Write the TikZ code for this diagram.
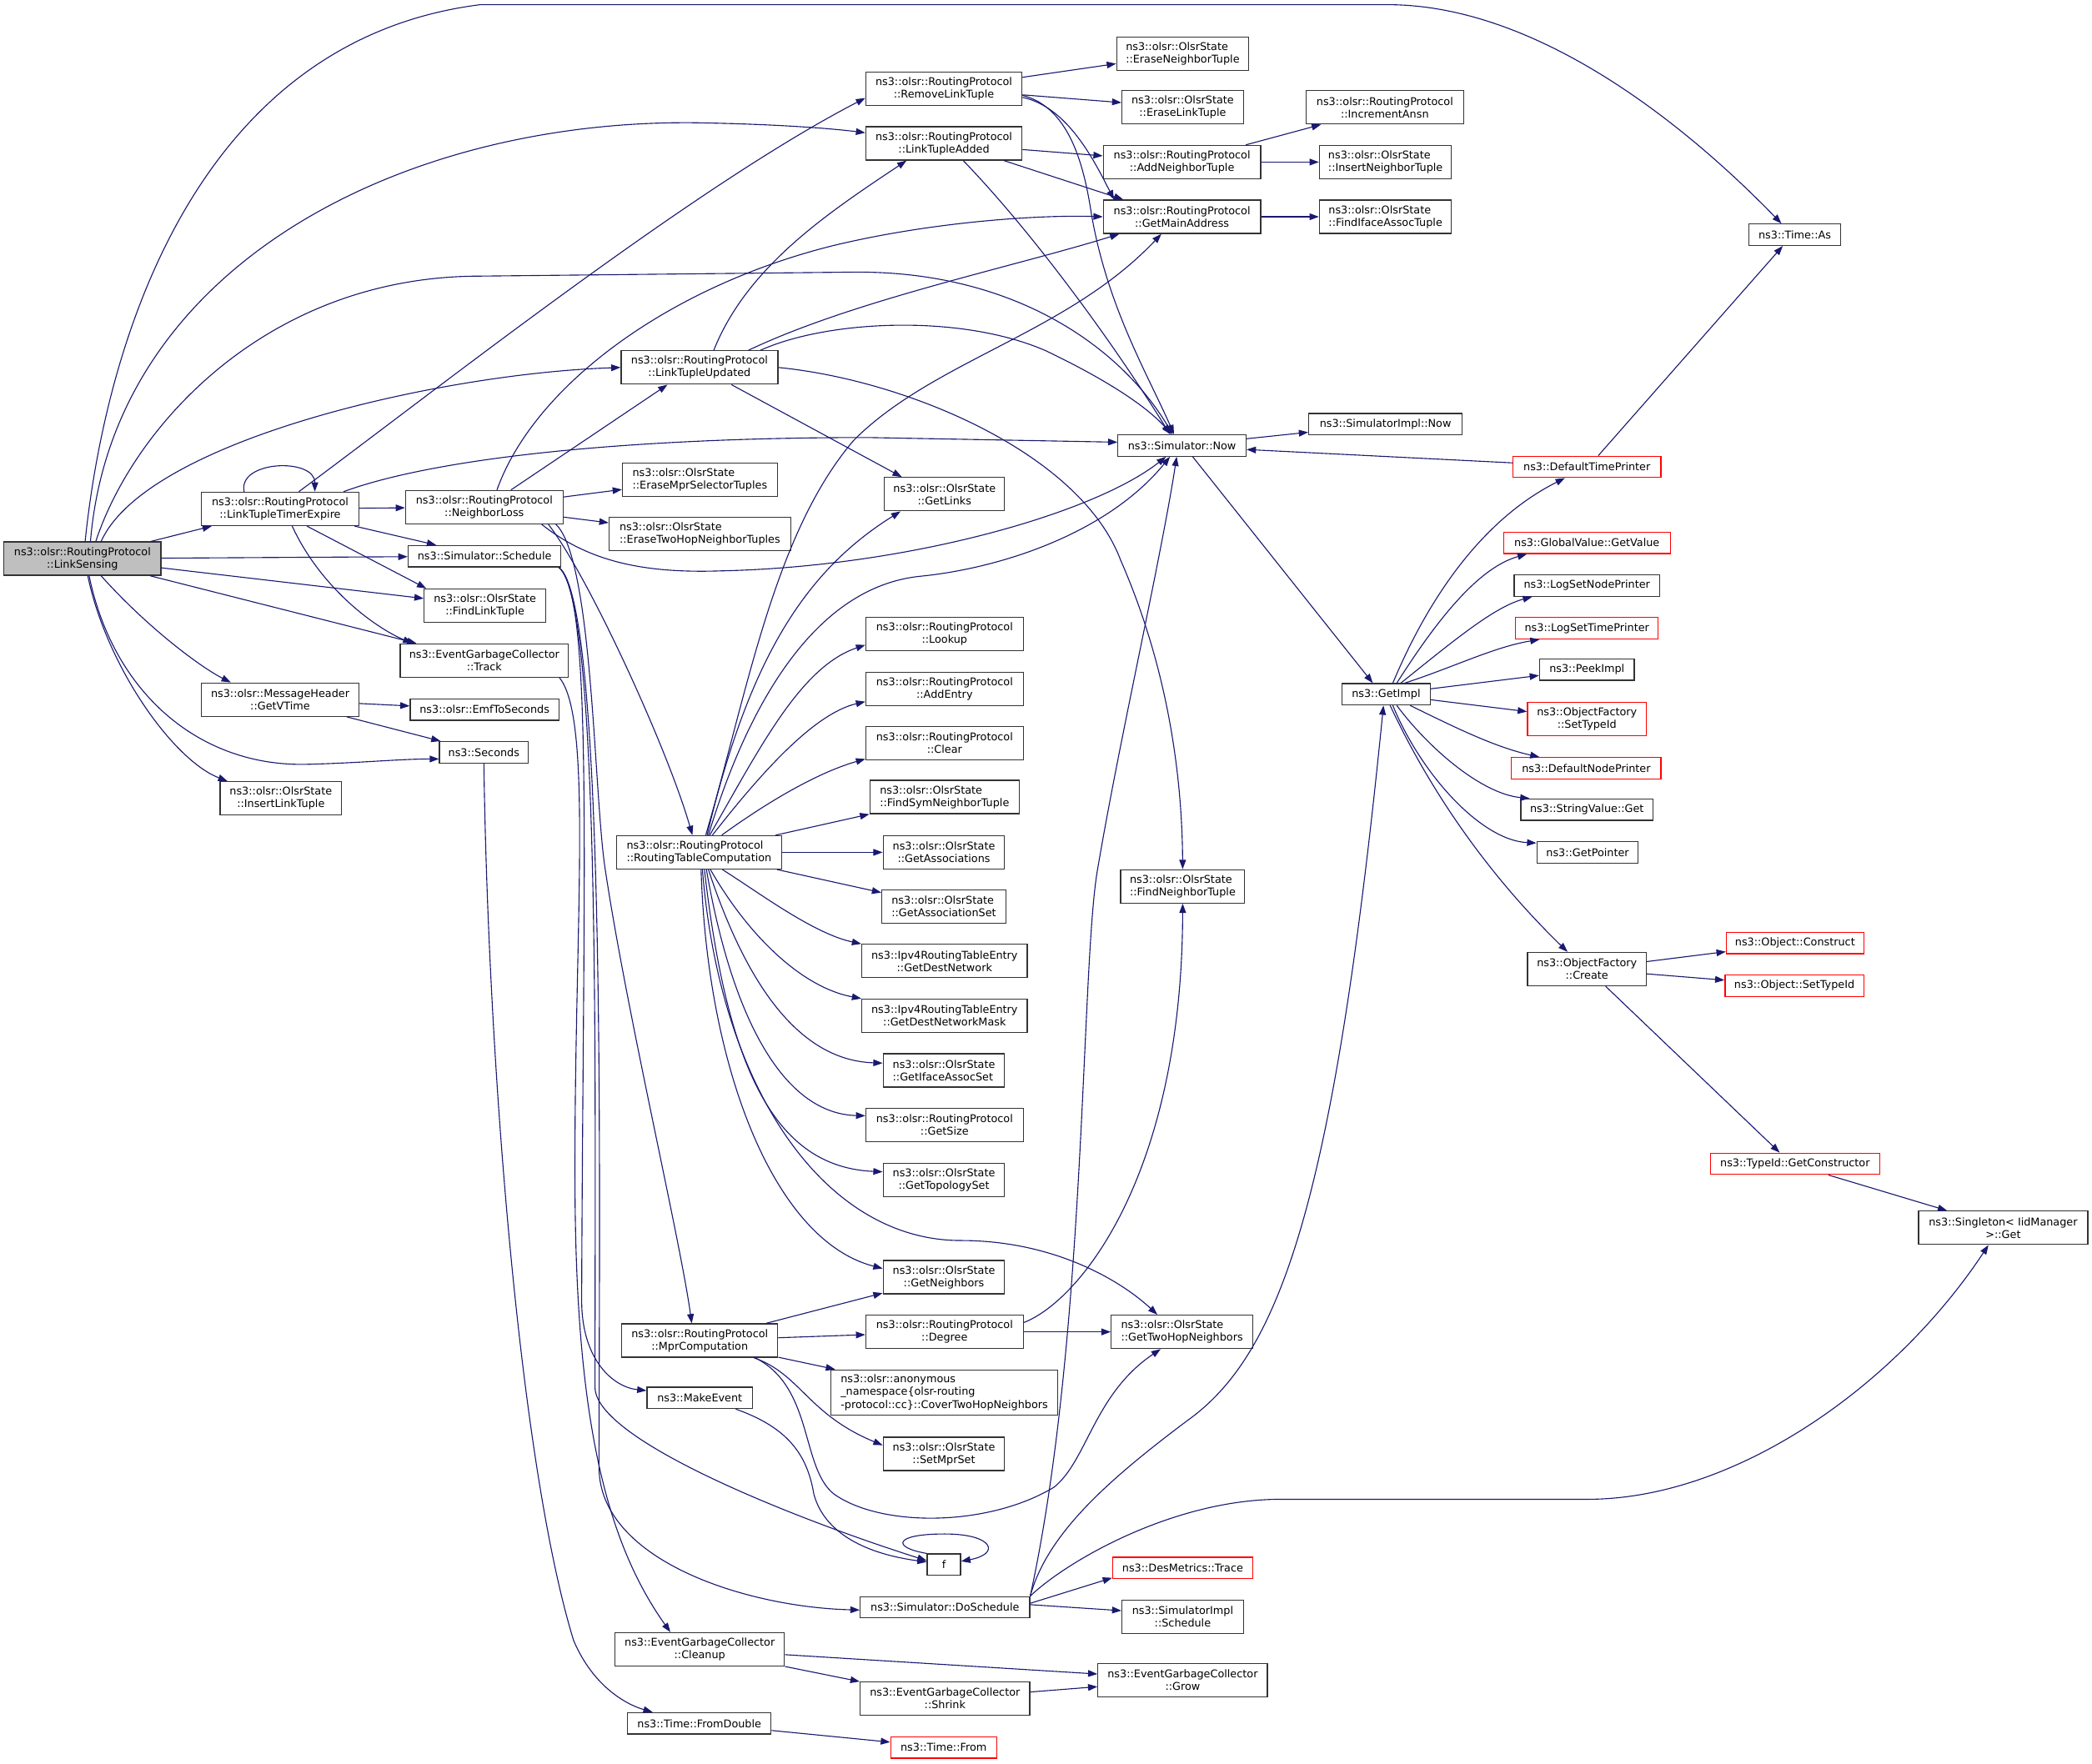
\documentclass[tikz,border=0pt]{standalone}
\usepackage{fontspec}
\setmainfont{DejaVu Sans}
\usetikzlibrary{arrows.meta}
\definecolor{calledge}{RGB}{25,25,112}
\definecolor{truncred}{RGB}{255,0,0}
\definecolor{rootgray}{RGB}{191,191,191}
\begin{document}
\begin{tikzpicture}[
      x=1pt, y=-1pt,
      >={Triangle[length=7pt,width=5pt]},
      fn/.style={
        draw=black!80, fill=white, line width=0.8pt, inner sep=0pt,
        minimum height=16pt, align=center, font={\fontsize{8}{9.4}\selectfont}
      },
      fn2/.style={fn, minimum height=25pt},
      fn3/.style={fn, minimum height=34pt},
      lft/.style={align=left},
      trunc/.style={draw=truncred},
      rootfn/.style={fill=rootgray},
      call/.style={->, draw=calledge, line width=0.7pt},
    ]
    \useasboundingbox (0,0) rectangle (1568.1,1321.9);
    \node[fn2, rootfn, minimum width=117.6pt] (sensing) at (61.8,418.8) {ns3::olsr::RoutingProtocol\\::LinkSensing};
    \node[fn2, minimum width=118pt] (timer) at (210,381.5) {ns3::olsr::RoutingProtocol\\::LinkTupleTimerExpire};
    \node[fn, minimum width=114.5pt] (schedule) at (363.2,417) {ns3::Simulator::Schedule};
    \node[fn2, minimum width=91pt] (findlink) at (363.5,454) {ns3::olsr::OlsrState\\::FindLinkTuple};
    \node[fn2, minimum width=126pt] (track) at (363,495.2) {ns3::EventGarbageCollector\\::Track};
    \node[fn2, minimum width=118pt] (vtime) at (210,524.5) {ns3::olsr::MessageHeader\\::GetVTime};
    \node[fn, minimum width=111.5pt] (emf) at (363.2,532) {ns3::olsr::EmfToSeconds};
    \node[fn, minimum width=66.5pt] (seconds) at (362.7,564) {ns3::Seconds};
    \node[fn2, minimum width=91pt] (insertlink) at (210.5,598.5) {ns3::olsr::OlsrState\\::InsertLinkTuple};
    \node[fn2, minimum width=118pt] (nbloss) at (363,380.2) {ns3::olsr::RoutingProtocol\\::NeighborLoss};
    \node[fn2, lft, minimum width=116pt] (erasempr) at (524.6,359.5) {ns3::olsr::OlsrState\\::EraseMprSelectorTuples};
    \node[fn2, lft, minimum width=136pt] (erase2hop) at (524.6,400.5) {ns3::olsr::OlsrState\\::EraseTwoHopNeighborTuples};
    \node[fn2, minimum width=117.5pt] (updated) at (524.3,275.5) {ns3::olsr::RoutingProtocol\\::LinkTupleUpdated};
    \node[fn2, minimum width=117pt] (remove) at (707.5,66.5) {ns3::olsr::RoutingProtocol\\::RemoveLinkTuple};
    \node[fn2, minimum width=117pt] (added) at (707.5,107.5) {ns3::olsr::RoutingProtocol\\::LinkTupleAdded};
    \node[fn2, lft, minimum width=99pt] (erasenb) at (886.5,40.5) {ns3::olsr::OlsrState\\::EraseNeighborTuple};
    \node[fn2, minimum width=91pt] (eraselink) at (886.5,80.5) {ns3::olsr::OlsrState\\::EraseLinkTuple};
    \node[fn2, minimum width=118pt] (addnb) at (886,121.5) {ns3::olsr::RoutingProtocol\\::AddNeighborTuple};
    \node[fn2, minimum width=118pt] (mainaddr) at (886,162.5) {ns3::olsr::RoutingProtocol\\::GetMainAddress};
    \node[fn2, minimum width=118pt] (incansn) at (1038,80.5) {ns3::olsr::RoutingProtocol\\::IncrementAnsn};
    \node[fn2, lft, minimum width=99pt] (insertnb) at (1038.5,121.5) {ns3::olsr::OlsrState\\::InsertNeighborTuple};
    \node[fn2, lft, minimum width=99pt] (findiface) at (1038.5,162.5) {ns3::olsr::OlsrState\\::FindIfaceAssocTuple};
    \node[fn, minimum width=68.5pt] (timeas) at (1345.3,176) {ns3::Time::As};
    \node[fn, minimum width=96pt] (now) at (886,334) {ns3::Simulator::Now};
    \node[fn, minimum width=115pt] (implnow) at (1038.5,318) {ns3::SimulatorImpl::Now};
    \node[fn, trunc, minimum width=111pt] (deftime) at (1189.5,350) {ns3::DefaultTimePrinter};
    \node[fn2, minimum width=90pt] (getlinks) at (708,370.5) {ns3::olsr::OlsrState\\::GetLinks};
    \node[fn2, minimum width=118pt] (lookup) at (708,475.5) {ns3::olsr::RoutingProtocol\\::Lookup};
    \node[fn2, minimum width=118pt] (addentry) at (708,516.5) {ns3::olsr::RoutingProtocol\\::AddEntry};
    \node[fn2, minimum width=118pt] (clear) at (708,557) {ns3::olsr::RoutingProtocol\\::Clear};
    \node[fn2, lft, minimum width=112pt] (findsym) at (708,597.5) {ns3::olsr::OlsrState\\::FindSymNeighborTuple};
    \node[fn2, minimum width=91pt] (getassoc) at (707.5,639) {ns3::olsr::OlsrState\\::GetAssociations};
    \node[fn2, lft, minimum width=93pt] (getassocset) at (707.5,679.5) {ns3::olsr::OlsrState\\::GetAssociationSet};
    \node[fn2, minimum width=124pt] (destnet) at (708,720.5) {ns3::Ipv4RoutingTableEntry\\::GetDestNetwork};
    \node[fn2, minimum width=124pt] (destmask) at (708,761.5) {ns3::Ipv4RoutingTableEntry\\::GetDestNetworkMask};
    \node[fn2, lft, minimum width=91pt] (ifaceset) at (707.5,802.5) {ns3::olsr::OlsrState\\::GetIfaceAssocSet};
    \node[fn2, minimum width=118pt] (getsize) at (708,843.5) {ns3::olsr::RoutingProtocol\\::GetSize};
    \node[fn2, minimum width=91pt] (topo) at (707.5,884.5) {ns3::olsr::OlsrState\\::GetTopologySet};
    \node[fn2, minimum width=91pt] (neighbors) at (707.5,957.5) {ns3::olsr::OlsrState\\::GetNeighbors};
    \node[fn2, lft, minimum width=124pt] (rtc) at (524,639) {ns3::olsr::RoutingProtocol\\::RoutingTableComputation};
    \node[fn2, lft, minimum width=93pt] (findnb) at (886.5,664.5) {ns3::olsr::OlsrState\\::FindNeighborTuple};
    \node[fn2, minimum width=117pt] (mpr) at (524.5,1005) {ns3::olsr::RoutingProtocol\\::MprComputation};
    \node[fn2, minimum width=118pt] (degree) at (708,998.5) {ns3::olsr::RoutingProtocol\\::Degree};
    \node[fn2, lft, minimum width=106pt] (twohop) at (886,998.5) {ns3::olsr::OlsrState\\::GetTwoHopNeighbors};
    \node[fn3, lft, minimum width=170.4pt] (cover) at (707.8,1044) {ns3::olsr::anonymous\\\_namespace\{olsr-routing\\-protocol::cc\}::CoverTwoHopNeighbors};
    \node[fn2, minimum width=91pt] (setmpr) at (707.5,1090) {ns3::olsr::OlsrState\\::SetMprSet};
    \node[fn, minimum width=79pt] (makeevent) at (524.5,1048) {ns3::MakeEvent};
    \node[fn, minimum width=25pt] (f) at (707.5,1173) {f};
    \node[fn, minimum width=127pt] (dosched) at (708.3,1205) {ns3::Simulator::DoSchedule};
    \node[fn, trunc, minimum width=105pt] (trace) at (886.5,1175.5) {ns3::DesMetrics::Trace};
    \node[fn2, minimum width=91pt] (implsched) at (886.5,1212) {ns3::SimulatorImpl\\::Schedule};
    \node[fn2, minimum width=127pt] (cleanup) at (524.5,1236.5) {ns3::EventGarbageCollector\\::Cleanup};
    \node[fn2, minimum width=127pt] (shrink) at (708.3,1273.5) {ns3::EventGarbageCollector\\::Shrink};
    \node[fn2, minimum width=127pt] (grow) at (886.5,1259.5) {ns3::EventGarbageCollector\\::Grow};
    \node[fn, minimum width=107.5pt] (fromdouble) at (524.2,1292) {ns3::Time::FromDouble};
    \node[fn, trunc, minimum width=79.4pt] (timefrom) at (707.3,1310) {ns3::Time::From};
    \node[fn, minimum width=66pt] (getimpl) at (1039,520.5) {ns3::GetImpl};
    \node[fn, trunc, minimum width=125pt] (getvalue) at (1189.5,407) {ns3::GlobalValue::GetValue};
    \node[fn, minimum width=109pt] (nodeprinter) at (1189.5,439) {ns3::LogSetNodePrinter};
    \node[fn, trunc, minimum width=107pt] (logtime) at (1189.5,471) {ns3::LogSetTimePrinter};
    \node[fn, minimum width=71pt] (peek) at (1189.5,502) {ns3::PeekImpl};
    \node[fn2, trunc, minimum width=89pt] (oftypeid) at (1189.5,539) {ns3::ObjectFactory\\::SetTypeId};
    \node[fn, trunc, minimum width=112pt] (defnode) at (1189,576) {ns3::DefaultNodePrinter};
    \node[fn, minimum width=99pt] (strget) at (1189.5,607) {ns3::StringValue::Get};
    \node[fn, minimum width=76pt] (getptr) at (1190,639) {ns3::GetPointer};
    \node[fn2, minimum width=89pt] (create) at (1189.5,726.5) {ns3::ObjectFactory\\::Create};
    \node[fn, trunc, minimum width=103pt] (construct) at (1345.5,707) {ns3::Object::Construct};
    \node[fn, trunc, minimum width=104pt] (objtypeid) at (1345,739) {ns3::Object::SetTypeId};
    \node[fn, trunc, minimum width=127pt] (getctor) at (1345.5,872.5) {ns3::TypeId::GetConstructor};
    \node[fn2, minimum width=127pt] (singleton) at (1501.5,920.5) {ns3::Singleton< IidManager\\ >::Get};
    \draw[call] ([xshift=2pt]sensing.north) .. controls (80,250) and (150,30) .. (360,3.5) -- (1040,3.5) .. controls (1150,3.5) and (1260,90) .. ([xshift=-10pt]timeas.north);
    \draw[call] ([xshift=6pt]sensing.north) .. controls (85,200) and (300,90) .. (520,92) .. controls (580,93) and (620,96) .. ([yshift=8pt]added.west);
    \draw[call] ([xshift=10pt]sensing.north) .. controls (100,320) and (200,207) .. (360,207) -- (640,204) .. controls (760,203) and (840,260) .. ([xshift=-7pt]now.north);
    \draw[call] ([xshift=14pt]sensing.north) .. controls (110,330) and (330,280) .. (updated.west);
    \draw[call] (sensing) -- (timer);
    \draw[call] (sensing) -- (schedule);
    \draw[call] (sensing) -- (findlink);
    \draw[call] (sensing) -- (track);
    \draw[call] ([xshift=14pt]sensing.south) .. controls (110,470) and (150,500) .. ([xshift=-37pt]vtime.north);
    \draw[call] ([xshift=5pt]sensing.south) .. controls (85,520) and (150,575) .. (230,573) .. controls (270,572) and (300,569) .. ([yshift=-5pt]seconds.west);
    \draw[call] ([xshift=4pt]sensing.south) .. controls (80,500) and (130,570) .. ([xshift=-40pt]insertlink.north);
    \draw[call] ([xshift=-27pt]timer.north) .. controls (178,345) and (236,343) .. ([xshift=26pt]timer.north);
    \draw[call] ([xshift=14pt]timer.north) .. controls (330,290) and (520,140) .. ([yshift=-7pt]remove.west);
    \draw[call] ([xshift=47.5pt]timer.north) .. controls (330,342) and (480,328) .. (650,328) -- ([yshift=2.5pt]now.west);
    \draw[call] (timer) -- (nbloss);
    \draw[call] (timer) -- (schedule);
    \draw[call] ([xshift=20pt]timer.south) -- ([xshift=-44pt]findlink.north);
    \draw[call] ([xshift=9pt]timer.south) .. controls (240,440) and (280,470) .. ([xshift=-54pt]track.north);
    \draw[call] ([xshift=9.5pt]nbloss.north) .. controls (400,290) and (500,215) .. (625,184) .. controls (700,166) and (780,161) .. (mainaddr.west);
    \draw[call] ([xshift=20pt]nbloss.north) -- ([xshift=-24pt]updated.south);
    \draw[call] (nbloss) -- (erasempr);
    \draw[call] (nbloss) -- (erase2hop);
    \draw[call] ([xshift=43pt]nbloss.south) .. controls (440,420) and (480,430) .. (540,428) .. controls (680,425) and (820,385) .. ([xshift=-12pt]now.south);
    \draw[call] ([xshift=48pt]nbloss.south) .. controls (440,430) and (500,560) .. ([xshift=-5pt]rtc.north);
    \draw[call] ([xshift=53.7pt]nbloss.south) .. controls (445,420) and (445,600) .. (454,654) .. controls (470,760) and (510,930) .. ([xshift=-6pt]mpr.north);
    \draw[call] ([xshift=-2pt]schedule.south east) .. controls (445,445) and (437,650) .. (436,975) .. controls (436,1020) and (460,1040) .. ([yshift=5.5pt]makeevent.west);
    \draw[call] ([xshift=-2pt]schedule.south east) .. controls (450,450) and (446,800) .. (446,1040) .. controls (446,1080) and (600,1140) .. ([yshift=3pt]f.west);
    \draw[call] ([xshift=-2pt]schedule.south east) .. controls (455,450) and (449,900) .. (449,1100) .. controls (449,1170) and (560,1205) .. ([yshift=-2pt]dosched.west);
    \draw[call] ([xshift=-7pt]track.south east) .. controls (445,540) and (430,700) .. (431,893) .. controls (432,1050) and (450,1150) .. ([xshift=-22pt]cleanup.north);
    \draw[call] (vtime) -- (emf);
    \draw[call] (vtime) -- (seconds);
    \draw[call] (seconds.south) .. controls (366,800) and (390,1100) .. (430,1230) .. controls (445,1265) and (470,1278) .. ([xshift=-35pt]fromdouble.north);
    \draw[call] ([xshift=10.7pt]updated.north) .. controls (560,200) and (620,160) .. ([xshift=-28pt]added.south);
    \draw[call] ([xshift=36.7pt]updated.north) .. controls (640,225) and (760,200) .. ([xshift=-47pt]mainaddr.south);
    \draw[call] ([xshift=45.7pt]updated.north) .. controls (620,240) and (720,235) .. (784,263) .. controls (830,285) and (860,305) .. ([xshift=-8pt]now.north);
    \draw[call] ([xshift=24pt]updated.south) -- ([xshift=-32pt]getlinks.north);
    \draw[call] (updated.east) .. controls (680,285) and (810,340) .. (840,420) .. controls (875,500) and (886,580) .. (findnb.north);
    \draw[call] (remove) -- (erasenb);
    \draw[call] (remove) -- (eraselink);
    \draw[call] ([yshift=-6.5pt]remove.east) .. controls (800,80) and (820,120) .. ([xshift=-51pt]mainaddr.north);
    \draw[call] ([yshift=-5pt]remove.east) .. controls (800,80) and (812,120) .. (818,160) .. controls (830,230) and (860,280) .. ([xshift=-6pt]now.north);
    \draw[call] (added) -- (addnb);
    \draw[call] ([xshift=45pt]added.south) -- ([xshift=-44pt]mainaddr.north);
    \draw[call] ([xshift=14.5pt]added.south) .. controls (770,170) and (830,250) .. ([xshift=-9pt]now.north);
    \draw[call] (addnb) -- (incansn);
    \draw[call] (addnb) -- (insertnb);
    \draw[call] (mainaddr) -- (findiface);
    \draw[call] (now) -- (implnow);
    \draw[call] ([xshift=8pt]now.south) -- ([xshift=-10pt]getimpl.north);
    \draw[call] ([yshift=3pt]deftime.west) -- ([yshift=-3pt]now.east);
    \draw[call] ([xshift=8.5pt]deftime.north) -- ([xshift=-9pt]timeas.south);
    \draw[call] ([xshift=5pt]getimpl.north) .. controls (1070,450) and (1110,390) .. ([xshift=-16.5pt]deftime.south);
    \draw[call] ([xshift=8pt]getimpl.north) .. controls (1080,460) and (1110,425) .. ([xshift=-45pt]getvalue.south);
    \draw[call] ([xshift=11pt]getimpl.north) .. controls (1090,480) and (1120,455) .. ([xshift=-41pt]nodeprinter.south);
    \draw[call] ([xshift=14pt]getimpl.north) .. controls (1090,500) and (1120,485) .. ([xshift=-35.5pt]logtime.south);
    \draw[call] (getimpl) -- (peek);
    \draw[call] (getimpl) -- (oftypeid);
    \draw[call] ([xshift=18pt]getimpl.south) .. controls (1090,545) and (1120,560) .. ([xshift=-35pt]defnode.north);
    \draw[call] ([xshift=8pt]getimpl.south) .. controls (1070,560) and (1110,595) .. ([xshift=-43pt]strget.north);
    \draw[call] ([xshift=5pt]getimpl.south) .. controls (1065,580) and (1110,630) .. ([yshift=7pt]getptr.west);
    \draw[call] ([xshift=3pt]getimpl.south) .. controls (1080,610) and (1130,670) .. ([xshift=-14.5pt]create.north);
    \draw[call] (create) -- (construct);
    \draw[call] (create) -- (objtypeid);
    \draw[call] ([xshift=14pt]create.south) -- ([xshift=-11.5pt]getctor.north);
    \draw[call] ([xshift=25pt]getctor.south) -- ([xshift=-42pt]singleton.north);
    \draw[call] ([xshift=5pt]rtc.north) .. controls (560,520) and (580,400) .. (640,330) .. controls (700,270) and (800,250) .. ([xshift=-15.5pt]mainaddr.south);
    \draw[call] ([xshift=7pt]rtc.north) .. controls (560,530) and (610,440) .. (690,432) .. controls (750,426) and (830,400) .. ([xshift=-9pt]now.south);
    \draw[call] ([xshift=6pt]rtc.north) .. controls (560,500) and (600,430) .. ([xshift=-33pt]getlinks.south);
    \draw[call] ([xshift=8pt]rtc.north) .. controls (570,560) and (600,500) .. ([yshift=-8pt]lookup.west);
    \draw[call] ([xshift=10pt]rtc.north) .. controls (570,580) and (610,535) .. ([yshift=-9.5pt]addentry.west);
    \draw[call] ([xshift=17pt]rtc.north) .. controls (570,605) and (610,580) .. ([yshift=-12pt]clear.west);
    \draw[call] ([xshift=-5pt]rtc.north east) -- (findsym.south west);
    \draw[call] (rtc) -- (getassoc);
    \draw[call] (rtc) -- (getassocset);
    \draw[call] ([xshift=17.5pt]rtc.south) .. controls (570,670) and (610,700) .. (destnet.north west);
    \draw[call] ([xshift=8.5pt]rtc.south) .. controls (560,700) and (600,740) .. (destmask.north west);
    \draw[call] ([xshift=7pt]rtc.south) .. controls (560,740) and (600,795) .. ([yshift=5.5pt]ifaceset.west);
    \draw[call] ([xshift=5.5pt]rtc.south) .. controls (550,770) and (590,835) .. ([yshift=7pt]getsize.west);
    \draw[call] ([xshift=4pt]rtc.south) .. controls (545,800) and (580,875) .. ([yshift=6pt]topo.west);
    \draw[call] ([xshift=1.5pt]rtc.south) .. controls (530,800) and (580,930) .. ([yshift=6.5pt]neighbors.west);
    \draw[call] ([xshift=2.5pt]rtc.south) .. controls (540,820) and (620,930) .. (720,930) .. controls (790,930) and (840,960) .. ([xshift=-18.5pt]twohop.north);
    \draw[call] (mpr) -- (neighbors);
    \draw[call] (mpr) -- (degree);
    \draw[call] (mpr) -- (cover);
    \draw[call] ([xshift=40.5pt]mpr.south) .. controls (600,1030) and (605,1060) .. ([yshift=6.5pt]setmpr.west);
    \draw[call] ([xshift=41.5pt]mpr.south) .. controls (610,1040) and (600,1100) .. (625,1120) .. controls (660,1145) and (740,1145) .. (790,1115) .. controls (815,1095) and (820,1045) .. ([xshift=-16pt]twohop.south);
    \draw[call] (degree) -- (twohop);
    \draw[call] ([yshift=7pt]degree.east) .. controls (810,975) and (886,880) .. (findnb.south);
    \draw[call] ([xshift=27pt]makeevent.south) .. controls (590,1070) and (605,1090) .. (610,1120) .. controls (618,1150) and (650,1165) .. ([yshift=2pt]f.west);
    \draw[call] (f.north west) .. controls (668,1160) and (670,1150) .. (708,1150) .. controls (745,1150) and (750,1165) .. ([yshift=2.5pt]f.east);
    \draw[call] (dosched.north east) .. controls (815,1000) and (810,720) .. (823,650) .. controls (840,550) and (870,420) .. ([xshift=-4pt]now.south);
    \draw[call] (dosched.north east) .. controls (785,1150) and (830,1110) .. (890,1065) .. controls (960,1015) and (1000,900) .. ([xshift=-2pt]getimpl.south);
    \draw[call] (dosched.north east) .. controls (800,1170) and (880,1124) .. (960,1124) -- (1190,1124) .. controls (1300,1124) and (1420,1040) .. ([xshift=-11pt]singleton.south);
    \draw[call] ([yshift=3pt]dosched.east) -- ([yshift=1pt]trace.south west);
    \draw[call] ([yshift=2pt]dosched.east) -- ([yshift=4.5pt]implsched.west);
    \draw[call] ([yshift=-4pt]cleanup.east) -- ([yshift=4.5pt]grow.west);
    \draw[call] (cleanup) -- (shrink);
    \draw[call] (shrink) -- (grow);
    \draw[call] (fromdouble) -- (timefrom);
  \end{tikzpicture}
\end{document}
